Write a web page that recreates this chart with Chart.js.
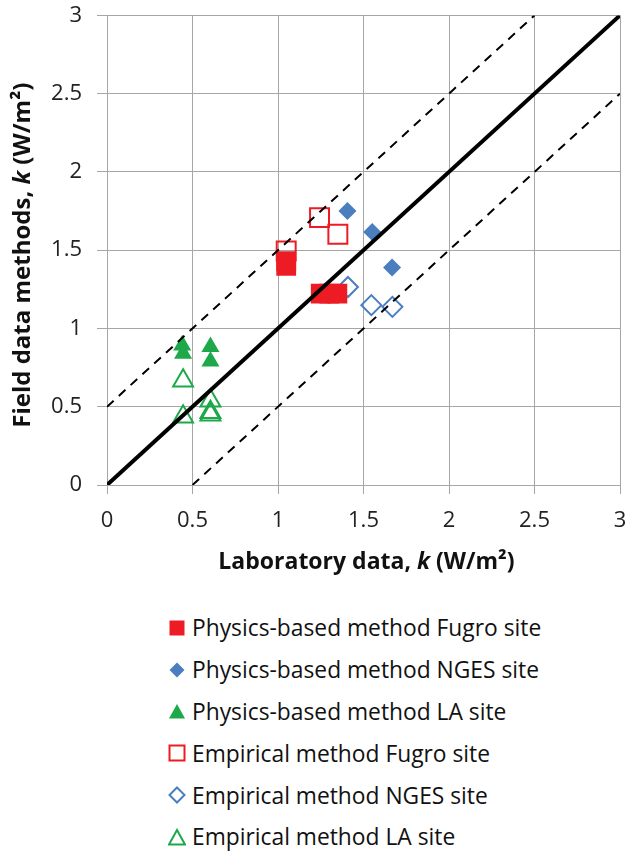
<!DOCTYPE html>
<html><head><meta charset="utf-8">
<script src="https://cdn.jsdelivr.net/npm/chart.js@4/dist/chart.umd.min.js"></script>
<style>
html,body{margin:0;padding:0;background:#fff;}
#wrap{position:relative;width:637px;height:579px;}
#legend{position:absolute;left:168px;top:607px;font-family:"Open Sans",sans-serif;font-size:22.8px;color:#111;}
#legend .it{display:flex;align-items:center;height:41.8px;white-space:nowrap;}
#legend svg{margin-right:6px;flex:none;}
</style></head><body>
<div id="wrap"><canvas id="c" width="637" height="579"></canvas></div>
<div id="legend"></div>
<script>
const physFugro = [{x:1.048,y:1.40},{x:1.048,y:1.43},{x:1.25,y:1.223},{x:1.30,y:1.223},{x:1.347,y:1.223}];
const physNGES  = [{x:1.406,y:1.75},{x:1.551,y:1.616},{x:1.667,y:1.389}];
const physLA    = [{x:0.44,y:0.893},{x:0.445,y:0.84},{x:0.605,y:0.883},{x:0.605,y:0.79}];
const empFugro  = [{x:1.243,y:1.708},{x:1.35,y:1.602},{x:1.048,y:1.495}];
const empNGES   = [{x:1.409,y:1.265},{x:1.546,y:1.149},{x:1.669,y:1.138}];
const empLA     = [{x:0.445,y:0.666},{x:0.445,y:0.436},{x:0.605,y:0.538},{x:0.605,y:0.464},{x:0.605,y:0.449}];
const lineOne   = [{x:0,y:0},{x:3,y:3}];
const lineUpper = [{x:0,y:0.5},{x:2.5,y:3}];
const lineLower = [{x:0.5,y:0},{x:3,y:2.5}];
const ticks = [0,0.5,1,1.5,2,2.5,3];
const xTitle = [['Laboratory data, ',false],['k',true],[' (W/m²)',false]];
const yTitle = [['Field data methods, ',false],['k',true],[' (W/m²)',false]];

const RED='#ED1C24', BLUE='#4A7EBF', GREEN='#1DA84A';
const seriesDefs = [
  {label:'Physics-based method Fugro site', data:physFugro, color:RED, style:'rect', fill:true, r:14},
  {label:'Physics-based method NGES site', data:physNGES, color:BLUE, style:'rectRot', fill:true, r:9},
  {label:'Physics-based method LA site', data:physLA, color:GREEN, style:'triangle', fill:true, r:10.4},
  {label:'Empirical method Fugro site', data:empFugro, color:RED, style:'rect', fill:false, r:13.4},
  {label:'Empirical method NGES site', data:empNGES, color:BLUE, style:'rectRot', fill:false, r:10},
  {label:'Empirical method LA site', data:empLA, color:GREEN, style:'triangle', fill:false, r:11.5}
];
const datasets = seriesDefs.map(s=>({
  type:'scatter', label:s.label, data:s.data, pointStyle:s.style, pointRadius:s.r,
  backgroundColor:s.fill?s.color:'rgba(255,255,255,0)', borderColor:s.color,
  pointBorderWidth:s.fill?0:2, order:1
}));
datasets.push({type:'line',label:'1:1',data:lineOne,borderColor:'#000',borderWidth:4,pointRadius:0,order:0});
datasets.push({type:'line',label:'+0.5',data:lineUpper,borderColor:'#000',borderWidth:2,borderDash:[9,7],pointRadius:0,order:0});
datasets.push({type:'line',label:'-0.5',data:lineLower,borderColor:'#000',borderWidth:2,borderDash:[9,7],pointRadius:0,order:0});

const tickFont={family:'"Open Sans", sans-serif',size:22};
const fmt=v=>String(v);
const noPad=s=>{s.paddingTop=0;s.paddingBottom=0;s.paddingLeft=0;s.paddingRight=0;};

function drawRich(ctx, segs, size){
  const f=it=>`${it?'italic ':''}bold ${size}px "Open Sans", sans-serif`;
  let total=0; const w=segs.map(([t,it])=>{ctx.font=f(it);const m=ctx.measureText(t).width;total+=m;return m;});
  let x=-total/2;
  segs.forEach(([t,it],i)=>{ctx.font=f(it);ctx.fillText(t,x,0);x+=w[i];});
}
const axisTitles={id:'axisTitles',afterDraw(chart){
  const ctx=chart.ctx, a=chart.chartArea;
  ctx.save();ctx.fillStyle='#111';ctx.textBaseline='middle';ctx.textAlign='left';
  ctx.save();ctx.translate((a.left+a.right)/2+3,562);drawRich(ctx,xTitle,23);ctx.restore();
  ctx.save();ctx.translate(23,(a.top+a.bottom)/2+5);ctx.rotate(-Math.PI/2);drawRich(ctx,yTitle,24);ctx.restore();
  ctx.restore();
}};

new Chart(document.getElementById('c'),{
  data:{datasets},
  plugins:[axisTitles],
  options:{
    responsive:false,animation:false,
    layout:{padding:{top:15,right:17,left:0,bottom:0}},
    plugins:{legend:{display:false},tooltip:{enabled:false}},
    scales:{
      x:{type:'linear',min:0,max:3,
        afterBuildTicks:s=>{s.ticks=ticks.map(v=>({value:v}));},
        afterFit:s=>{s.height=94;noPad(s);},
        grid:{color:'#A6A6A6',lineWidth:1,tickLength:9,tickColor:'#A6A6A6'},
        border:{color:'#A6A6A6'},
        ticks:{font:tickFont,color:'#222',padding:14,callback:fmt,maxRotation:0},
        title:{display:false}
      },
      y:{type:'linear',min:0,max:3,
        afterBuildTicks:s=>{s.ticks=ticks.map(v=>({value:v}));},
        afterFit:s=>{s.width=107;noPad(s);},
        grid:{color:'#A6A6A6',lineWidth:1,tickLength:10,tickColor:'#A6A6A6'},
        border:{color:'#A6A6A6'},
        ticks:{font:tickFont,color:'#222',padding:15,callback:fmt},
        title:{display:false}
      }
    }
  }
});

const lg=document.getElementById('legend');
seriesDefs.forEach(s=>{
  const f=s.fill?s.color:'none', sw=s.fill?0:2;
  let shape='';
  if(s.style==='rect') shape=`<rect x="1.5" y="1.5" width="15" height="15" fill="${f}" stroke="${s.color}" stroke-width="${sw}"/>`;
  else if(s.style==='rectRot') shape=`<polygon points="9,1.5 16.5,9 9,16.5 1.5,9" fill="${f}" stroke="${s.color}" stroke-width="${sw}"/>`;
  else shape=`<polygon points="9,2 17,16.5 1,16.5" fill="${f}" stroke="${s.color}" stroke-width="${sw}"/>`;
  const d=document.createElement('div');d.className='it';
  d.innerHTML=`<svg width="18" height="18">${shape}</svg><span>${s.label}</span>`;
  lg.appendChild(d);
});
</script>
</body></html>
